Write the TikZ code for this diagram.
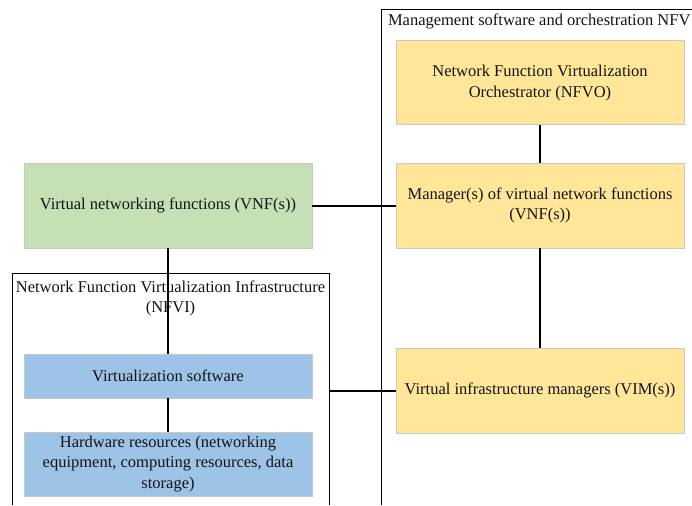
\documentclass[tikz,border=0pt]{standalone}
\usepackage{fontspec}
\setmainfont{Liberation Serif}
\usetikzlibrary{positioning}
\definecolor{vnfgreen}{RGB}{197,224,180}
\definecolor{mgmtyellow}{RGB}{255,230,153}
\definecolor{infrablue}{RGB}{157,195,230}
\definecolor{boxgrey}{RGB}{200,200,200}
\definecolor{inkblack}{RGB}{20,20,20}

\begin{document}
\begin{tikzpicture}[
    x=1pt, y=1pt,
    font=\fontsize{16.5}{20.5}\selectfont,
    every node/.style={text=inkblack},
    box/.style={draw=boxgrey, line width=1pt, minimum width=288pt, inner sep=0pt, outer sep=0pt, align=center},
    vnfbox/.style={box, fill=vnfgreen, minimum height=85pt},
    mgmtbox/.style={box, fill=mgmtyellow, minimum height=85pt},
    infrabox/.style={box, fill=infrablue},
    frame/.style={draw=black, line width=1pt},
    link/.style={draw=black, line width=2pt},
    ttl/.style={inner sep=0pt, outer sep=0pt},
]
\useasboundingbox (0,0) rectangle (692,-505);

% --------------------------------------------------------------- frames ---
\draw[frame] (381,-505) |- (692,-10);
\node[ttl, anchor=base west] (mgmtttl) at (388,-26) {Management software and orchestration NFV};

\coordinate (nfvine) at (329,-273);
\draw[frame] (12,-505) |- (nfvine) -- (329,-505);
\node[ttl, anchor=north, align=center] (nfvittl) at (170.5,-280.5) {Network Function Virtualization Infrastructure\\(NFVI)};

% ---------------------------------------------------------------- boxes ---
\node[vnfbox] (vnf) at (168,-205.5) {Virtual networking functions (VNF(s))};
\node[mgmtbox, right=84pt of vnf] (vnfm) {Manager(s) of virtual network functions\\(VNF(s))};
\node[mgmtbox, above=38pt of vnfm, minimum height=84pt] (nfvo) {Network Function Virtualization\\Orchestrator (NFVO)};
\node[mgmtbox, below=100pt of vnfm] (vim) {Virtual infrastructure managers (VIM(s))};

\node[infrabox, below=106pt of vnf, minimum height=44pt] (virt) {Virtualization software};
\node[infrabox, below=34pt of virt, minimum height=64pt] (hw) {Hardware resources (networking\\equipment, computing resources, data\\storage)};

% ----------------------------------------------------------- connectors ---
\draw[link] (nfvo) -- (vnfm);
\draw[link] (vnfm) -- (vim);
\draw[link] (vnf) -- (vnfm);
\draw[link] (vnf) -- (virt);
\draw[link] (virt) -- (hw);
\draw[link] (vim.west) -- (vim.west -| nfvine);

\end{tikzpicture}
\end{document}
